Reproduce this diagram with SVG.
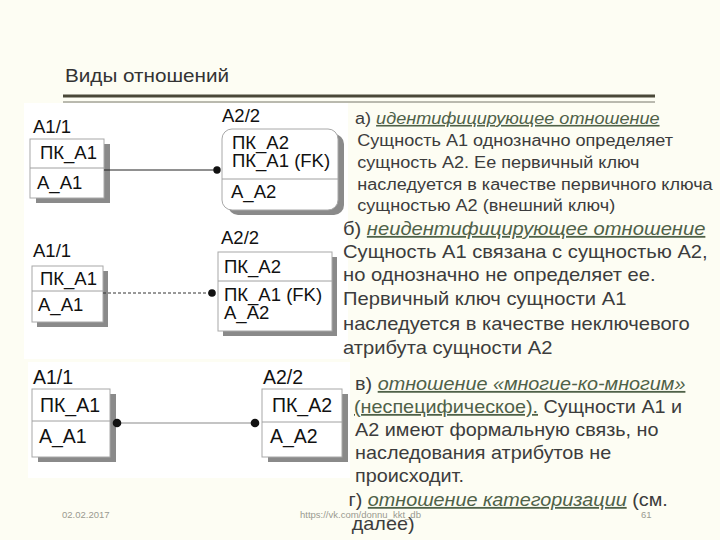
<svg xmlns="http://www.w3.org/2000/svg" width="720" height="540" viewBox="0 0 720 540">
<style>
.ent{font-family:"Liberation Sans",Arial,sans-serif;font-size:18.5px;fill:#111}
.entc{font-family:"Liberation Sans",Arial,sans-serif;font-size:19.5px;fill:#111}
.box{fill:#fff;stroke:#a8a8a8;stroke-width:1}
.div{stroke:#a0a0a0;stroke-width:1}
.sh{fill:#8a8a8a}
.body{font-family:"Liberation Sans",Arial,sans-serif;fill:#3c3c3c}
.em{fill:#4f6148;font-style:italic;text-decoration:underline}
.emu{fill:#4f6148;text-decoration:underline}
.foot{font-family:"Liberation Sans",Arial,sans-serif;font-size:9.5px;fill:#9a9a90}
</style>
<rect x="0" y="0" width="720" height="540" fill="#fdfdf3"/>
<rect x="24" y="103" width="324" height="256" fill="#fff"/>
<rect x="28" y="362" width="322" height="116" fill="#fff"/>
<g id="title">
<text x="0" y="82" class="body" transform="translate(65,0) scale(1.15,1)" style="font-size:18px;fill:#333">Виды отношений</text>
<line x1="63" y1="96" x2="655" y2="96" stroke="#4a4838" stroke-width="3"/>
<line x1="63" y1="102" x2="655" y2="102" stroke="#77776a" stroke-width="1"/>
</g>
<g id="a_A1">
<text x="33" y="133" class="ent">А1/1</text>
<rect x="36" y="144" width="74" height="59" class="sh"/>
<rect x="30" y="139" width="74" height="59" class="box"/>
<line x1="30" y1="168" x2="104" y2="168" class="div"/>
<text x="40" y="159" class="ent">ПК_А1</text>
<text x="37" y="189" class="ent">А_А1</text>
</g>
<g id="a_A2">
<text x="222" y="122" class="ent">А2/2</text>
<rect x="228" y="134" width="116" height="81" rx="10" class="sh"/>
<rect x="222" y="129" width="116" height="81" rx="10" class="box"/>
<line x1="222" y1="179" x2="338" y2="179" class="div"/>
<text x="232" y="149" class="ent">ПК_А2</text>
<text x="232" y="167" class="ent">ПК_А1 (FK)</text>
<text x="231" y="198" class="ent">А_А2</text>
</g>
<g id="b_A1">
<text x="33" y="257" class="ent">А1/1</text>
<rect x="37" y="271" width="71" height="56" class="sh"/>
<rect x="32" y="266" width="71" height="56" class="box"/>
<line x1="32" y1="291" x2="103" y2="291" class="div"/>
<text x="40" y="285" class="ent">ПК_А1</text>
<text x="38" y="311" class="ent">А_А1</text>
</g>
<g id="b_A2">
<text x="221" y="244" class="ent">А2/2</text>
<rect x="223" y="257" width="114" height="79" class="sh"/>
<rect x="218" y="252" width="114" height="79" class="box"/>
<line x1="218" y1="281" x2="332" y2="281" class="div"/>
<text x="224" y="273" class="ent">ПК_А2</text>
<text x="224" y="301" class="ent">ПК_А1 (FK)</text>
<text x="224" y="319" class="ent">А_А2</text>
</g>
<g id="c_A1">
<text x="33" y="384" class="entc">А1/1</text>
<rect x="38" y="394" width="78" height="68" class="sh"/>
<rect x="32" y="389" width="78" height="68" class="box"/>
<line x1="32" y1="421" x2="110" y2="421" class="div"/>
<text x="40" y="412" class="entc">ПК_А1</text>
<text x="39" y="443" class="entc">А_А1</text>
</g>
<g id="c_A2">
<text x="263" y="384" class="entc">А2/2</text>
<rect x="268" y="394" width="80" height="68" class="sh"/>
<rect x="262" y="389" width="80" height="68" class="box"/>
<line x1="262" y1="422" x2="342" y2="422" class="div"/>
<text x="272" y="412" class="entc">ПК_А2</text>
<text x="270" y="443" class="entc">А_А2</text>
</g>
<g id="connectors">
<line x1="104" y1="170" x2="215" y2="170" stroke="#222" stroke-width="1"/>
<circle cx="217" cy="170" r="3.7" fill="#111"/>
<line x1="103" y1="293" x2="210" y2="293" stroke="#333" stroke-width="1" stroke-dasharray="3 2"/>
<circle cx="212" cy="293" r="3.8" fill="#111"/>
<line x1="117" y1="423" x2="255" y2="423" stroke="#c4c4c4" stroke-width="2.2"/>
<circle cx="117" cy="423" r="4.3" fill="#111"/>
<circle cx="255" cy="423" r="4.3" fill="#111"/>
</g>
<g id="text_a" class="body" style="font-size:16px" transform="translate(355,0) scale(1.13,1)">
<text x="0" y="124">а) <tspan class="em">идентифицирующее отношение</tspan></text>
<text x="2" y="146">Сущность А1 однозначно определяет</text>
<text x="2" y="168">сущность А2. Ее первичный ключ</text>
<text x="2" y="190">наследуется в качестве первичного ключа</text>
<text x="2" y="211">сущностью А2 (внешний ключ)</text>
</g>
<g id="text_b" class="body" style="font-size:18px" transform="translate(343,0) scale(1.12,1)">
<text x="0" y="235">б) <tspan class="em">неидентифицирующее отношение</tspan></text>
<text x="0" y="258">Сущность А1 связана с сущностью А2,</text>
<text x="0" y="281">но однозначно не определяет ее.</text>
<text x="0" y="305">Первичный ключ сущности А1</text>
<text x="0" y="330">наследуется в качестве неключевого</text>
<text x="0" y="354">атрибута сущности А2</text>
</g>
<g id="text_c" class="body" style="font-size:18px" transform="translate(354,0) scale(1.1,1)">
<text x="1" y="390">в) <tspan class="em">отношение «многие-ко-многим»</tspan></text>
<text x="0" y="413"><tspan class="emu">(неспецифическое).</tspan> Сущности А1 и</text>
<text x="1" y="436">А2 имеют формальную связь, но</text>
<text x="1" y="459">наследования атрибутов не</text>
<text x="1" y="482">происходит.</text>
<text x="-5" y="506">г) <tspan class="em">отношение категоризации</tspan> (см.</text>
<text x="-2" y="530">далее)</text>
</g>
<g id="footer">
<text x="62" y="518" class="foot">02.02.2017</text>
<text x="300" y="518" class="foot">https://vk.com/donnu_kkt_db</text>
<text x="641" y="518" class="foot">61</text>
</g>
</svg>
